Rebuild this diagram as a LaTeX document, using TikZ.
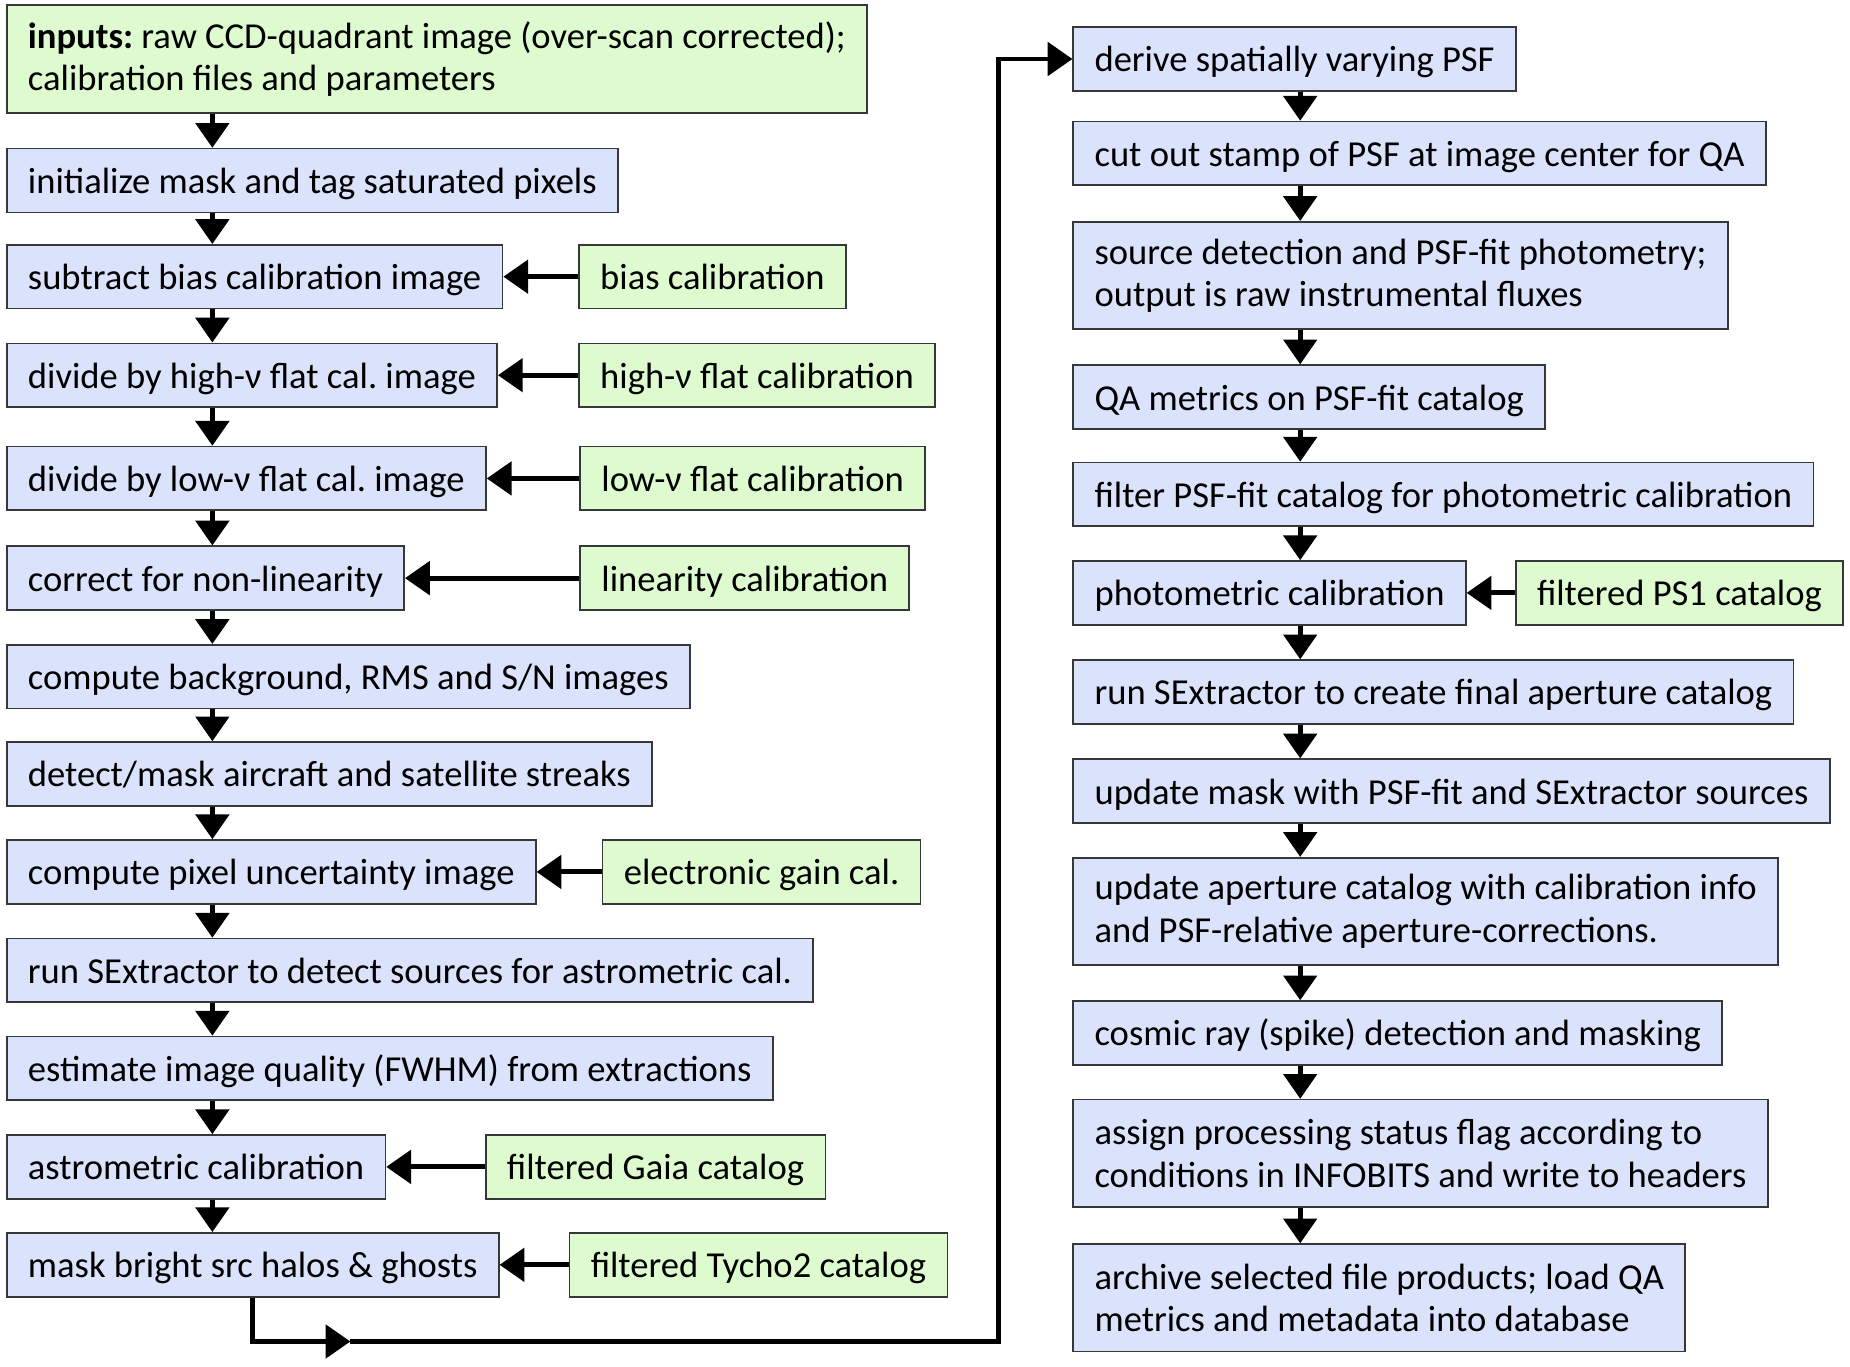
\documentclass[tikz,border=0pt]{standalone}
\usepackage{fontspec}
\setmainfont{Carlito}
\usetikzlibrary{arrows.meta}
\definecolor{procblue}{RGB}{218,226,252}
\definecolor{calgreen}{RGB}{221,251,206}
\definecolor{boxline}{RGB}{55,55,55}
\tikzset{box/.style={draw=boxline,line width=0.7pt,anchor=west,inner xsep=9pt,inner ysep=0pt,font=\fontsize{15.5}{18}\selectfont}}
\tikzset{one/.style={minimum height=27pt,text height=11pt,text depth=0pt}}
\tikzset{two/.style={minimum height=45.5pt,align=left}}
\tikzset{proc/.style={box,fill=procblue},cal/.style={box,fill=calgreen}}
\frenchspacing

\begin{document}
\begin{tikzpicture}[x=0.5pt, y=-0.5pt, flow/.style={-{Triangle[width=14pt,length=10.5pt]},line width=2.1pt}]
    \useasboundingbox (0,0) rectangle (1568,1158);
    \coordinate (axisL) at (180,0);
    \coordinate (axisR) at (1102,0);

    % left column
    \node[cal,two] (inputs) at (5,50) {\textbf{inputs:} raw CCD-quadrant image (over-scan corrected);\\calibration files and parameters};
    \node[proc,one] (init) at (5,153) {initialize mask and tag saturated pixels};
    \node[proc,one] (bias) at (5,234.5) {subtract bias calibration image};
    \node[proc,one] (hiflat) at (5,318) {divide by high-ν flat cal. image};
    \node[proc,one] (loflat) at (5,405.5) {divide by low-ν flat cal. image};
    \node[proc,one] (nonlin) at (5,490) {correct for non-linearity};
    \node[proc,one] (bkgd) at (5,573.5) {compute background, RMS and S/N images};
    \node[proc,one] (streak) at (5,656) {detect/mask aircraft and satellite streaks};
    \node[proc,one] (unc) at (5,739) {compute pixel uncertainty image};
    \node[proc,one] (sexastr) at (5,822.5) {run SExtractor to detect sources for astrometric cal.};
    \node[proc,one] (fwhm) at (5,905.5) {estimate image quality (FWHM) from extractions};
    \node[proc,one] (astrom) at (5,989) {astrometric calibration};
    \node[proc,one] (halos) at (5,1072) {mask bright src halos \& ghosts};

    % calibration inputs
    \node[cal,one] (biascal) at (490,234.5) {bias calibration};
    \node[cal,one] (hical) at (490,318) {high-ν flat calibration};
    \node[cal,one] (local) at (491,405.5) {low-ν flat calibration};
    \node[cal,one] (lincal) at (491,490) {linearity calibration};
    \node[cal,one] (gaincal) at (510,739) {electronic gain cal.};
    \node[cal,one] (gaia) at (411,989) {filtered Gaia catalog};
    \node[cal,one] (tycho) at (482,1072) {filtered Tycho2 catalog};

    % right column
    \node[proc,one] (psf) at (909,50) {derive spatially varying PSF};
    \node[proc,one] (stamp) at (909,130) {cut out stamp of PSF at image center for QA};
    \node[proc,two] (psffit) at (909,233.5) {source detection and PSF-fit photometry;\\output is raw instrumental fluxes};
    \node[proc,one] (qa) at (909,336.5) {QA metrics on PSF-fit catalog};
    \node[proc,one] (filter) at (909,419) {filter PSF-fit catalog for photometric calibration};
    \node[proc,one] (photcal) at (909,502.5) {photometric calibration};
    \node[cal,one] (ps1) at (1284,502.5) {filtered PS1 catalog};
    \node[proc,one] (sexfinal) at (909,586.5) {run SExtractor to create final aperture catalog};
    \node[proc,one] (updmask) at (909,670.5) {update mask with PSF-fit and SExtractor sources};
    \node[proc,two] (updcat) at (909,772.5) {update aperture catalog with calibration info\\and PSF-relative aperture-corrections.};
    \node[proc,one] (cosmic) at (909,875.5) {cosmic ray (spike) detection and masking};
    \node[proc,two] (status) at (909,977.5) {assign processing status flag according to\\conditions in INFOBITS and write to headers};
    \node[proc,two] (archive) at (909,1100) {archive selected file products; load QA\\metrics and metadata into database};

    \foreach \a/\b in {inputs/init,init/bias,bias/hiflat,hiflat/loflat,loflat/nonlin,nonlin/bkgd,bkgd/streak,streak/unc,unc/sexastr,sexastr/fwhm,fwhm/astrom,astrom/halos}
        \draw[flow] (\a.south -| axisL) -- (\b.north -| axisL);
    \foreach \a/\b in {psf/stamp,stamp/psffit,psffit/qa,qa/filter,filter/photcal,photcal/sexfinal,sexfinal/updmask,updmask/updcat,updcat/cosmic,cosmic/status,status/archive}
        \draw[flow] (\a.south -| axisR) -- (\b.north -| axisR);
    \foreach \a/\b in {biascal/bias,hical/hiflat,local/loflat,lincal/nonlin,gaincal/unc,gaia/astrom,tycho/halos,ps1/photcal}
        \draw[flow] (\a) -- (\b);

    % hand-over to the right column
    \coordinate (mid) at (297,1137);
    \coordinate (bend) at (846,1137);
    \draw[flow] (halos.south) |- (mid);
    \draw[flow] (mid) -- (bend) |- (psf.west);
\end{tikzpicture}
\end{document}
